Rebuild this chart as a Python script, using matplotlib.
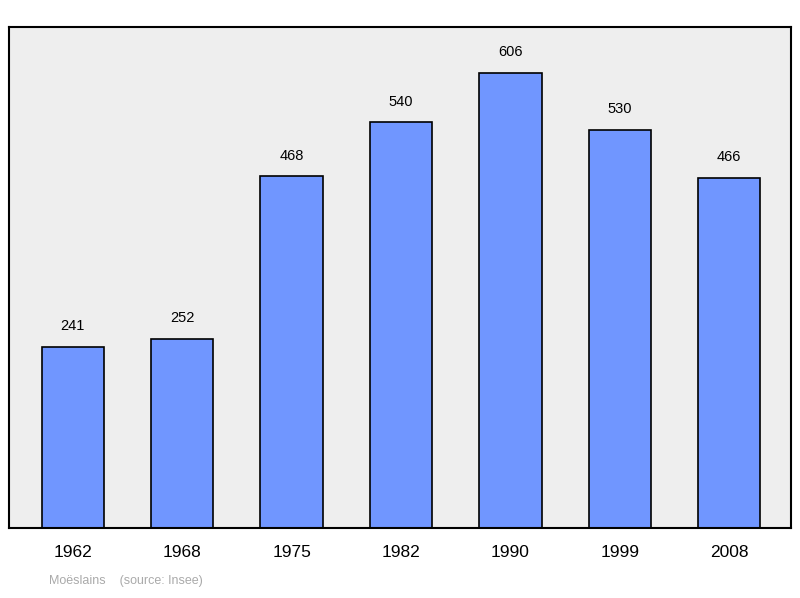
import matplotlib.pyplot as plt

years = ['1962', '1968', '1975', '1982', '1990', '1999', '2008']
population = [241, 252, 468, 540, 606, 530, 466]

fig = plt.figure(figsize=(8, 5.98), dpi=100)
ax = fig.add_axes([0.01125, 0.117, 0.9775, 0.838])
ax.set_facecolor('#eeeeee')

x = range(len(years))
ax.bar(x, population, width=0.57, color='#7096ff', edgecolor='black', linewidth=1.2)
for i, v in zip(x, population):
    ax.text(i, v + 18, str(v), ha='center', va='bottom', fontsize=10.5,
            family='Liberation Sans')

ax.set_xlim(-0.584, 6.566)
ax.set_ylim(0, 667)
ax.set_yticks([])
ax.set_xticks(list(x))
ax.set_xticklabels(years, fontsize=12.5, family='Liberation Sans')
ax.tick_params(axis='x', length=0, pad=12)
for s in ax.spines.values():
    s.set_linewidth(1.5)

fig.text(0.061, 0.023, 'Moëslains    (source: Insee)', color='#aaaaaa',
         fontsize=9, family='Liberation Sans')

fig.savefig('out.png')
